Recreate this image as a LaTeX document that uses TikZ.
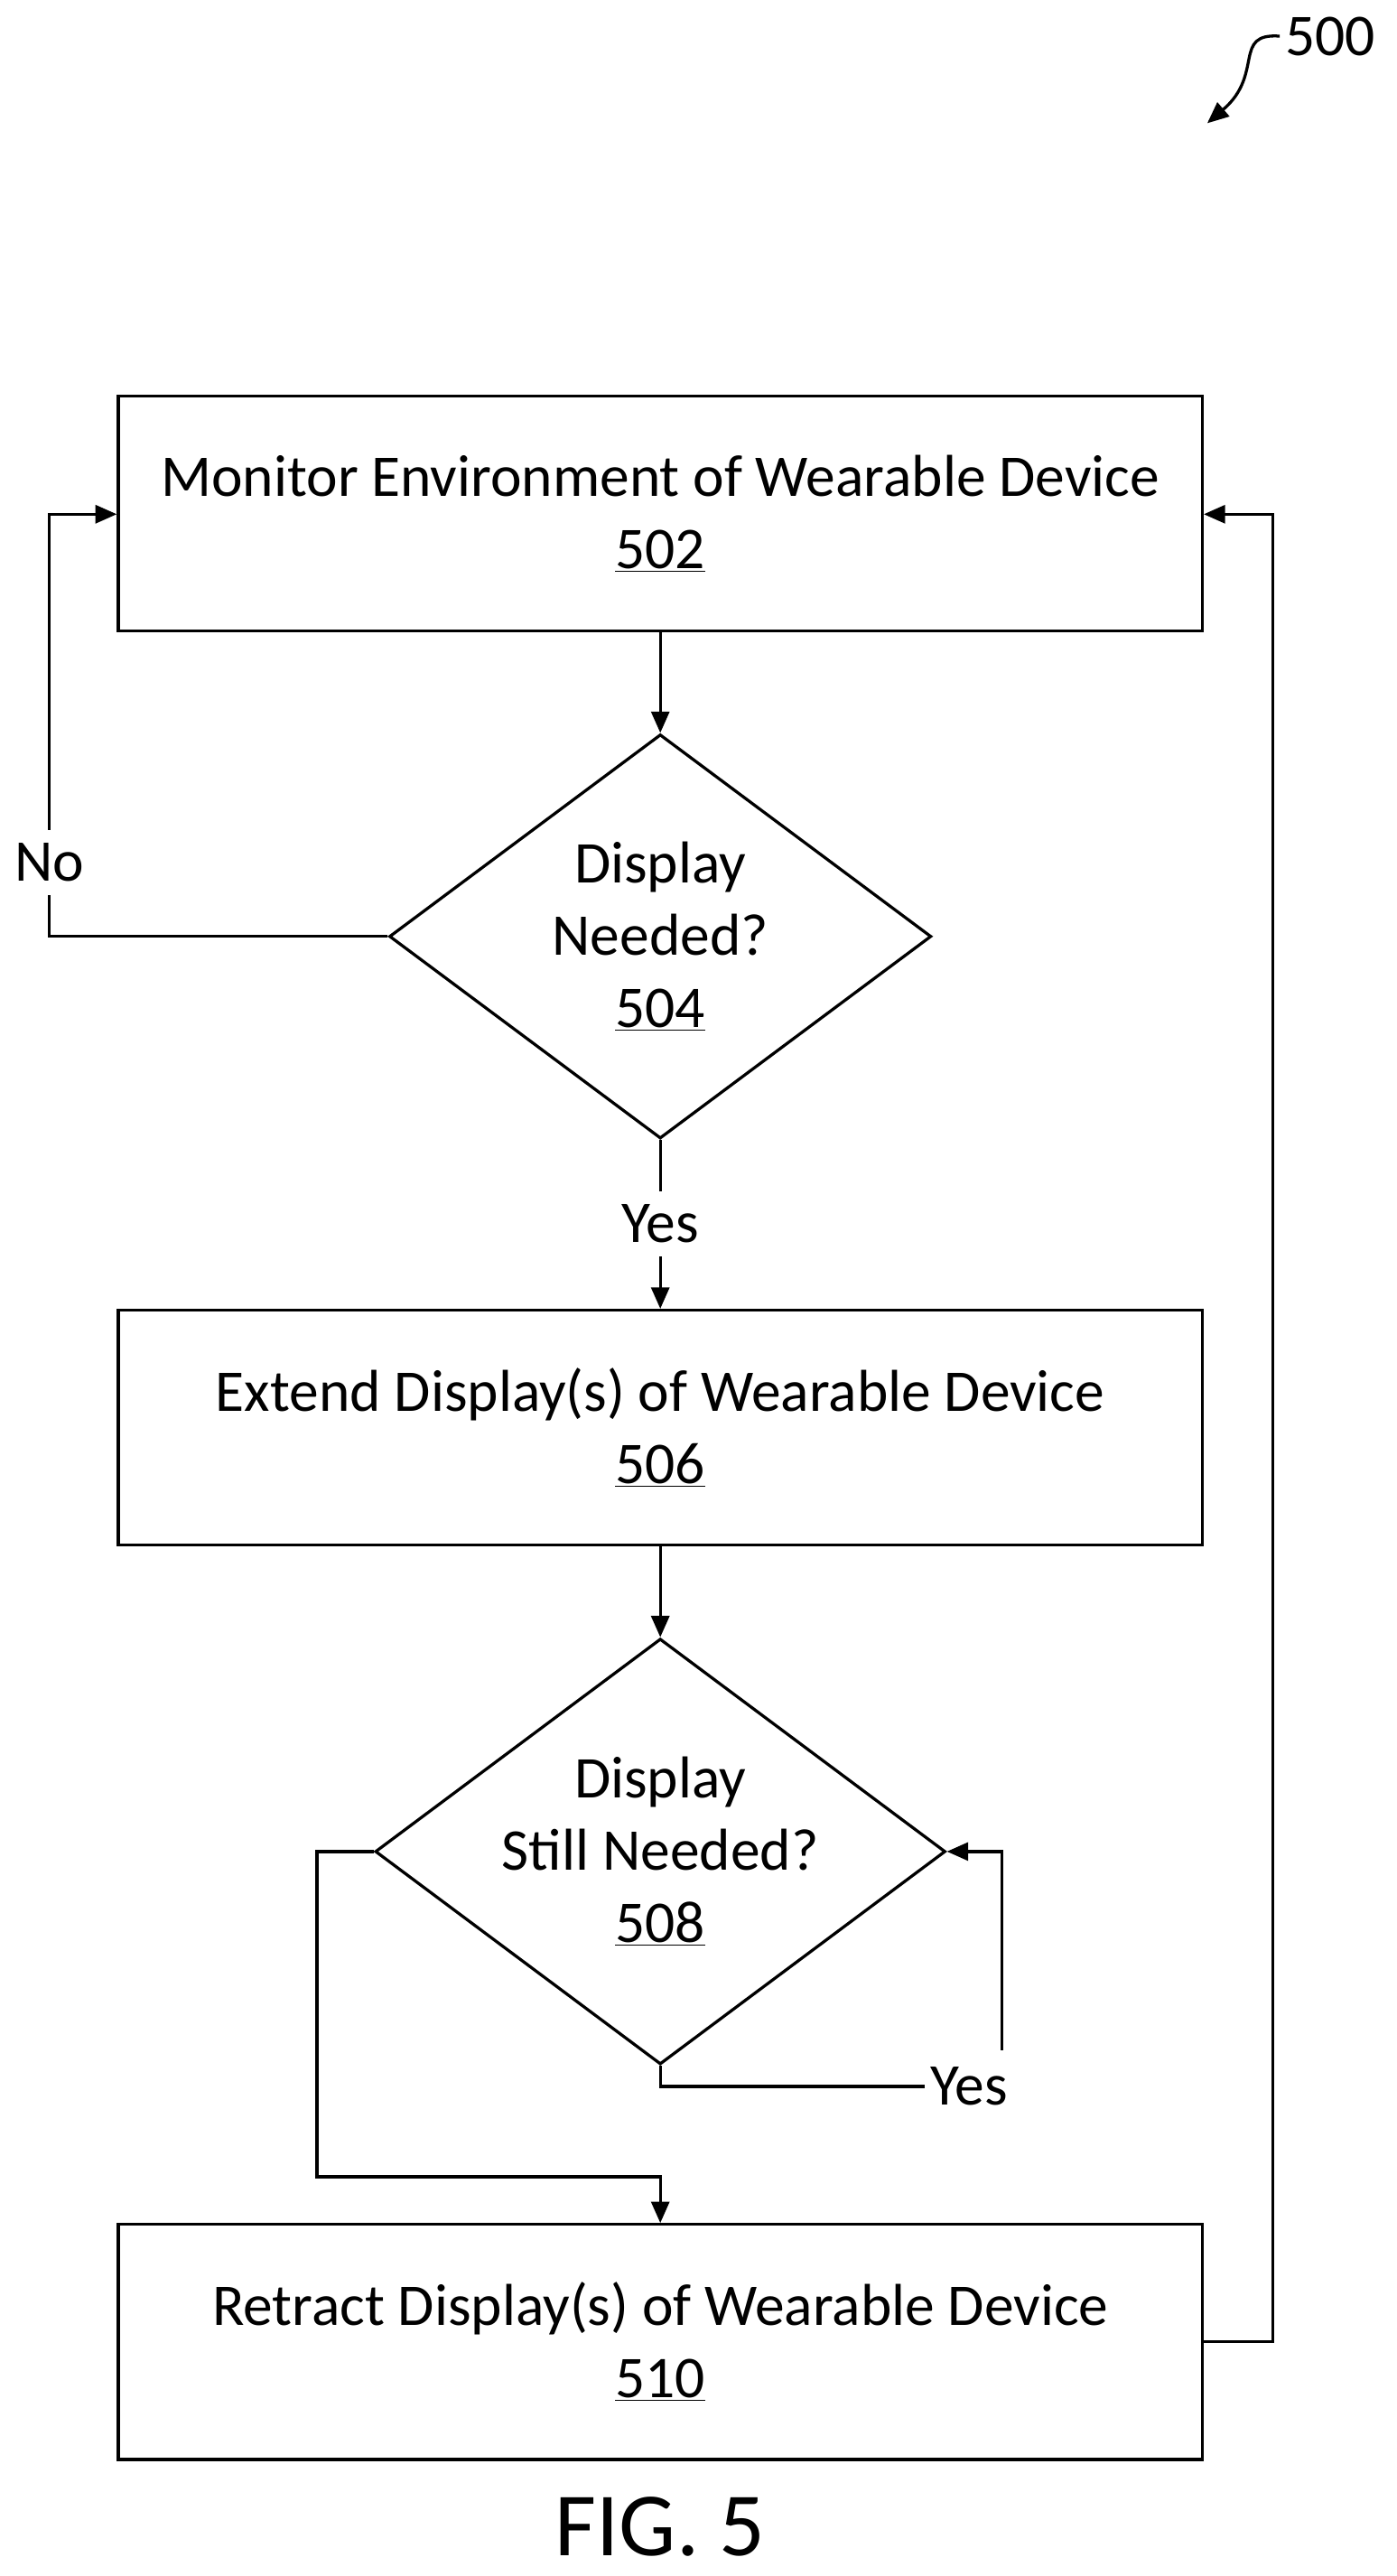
\documentclass[tikz,border=0pt]{standalone}
\usepackage{fontspec}
\setmainfont{Carlito}
\usetikzlibrary{shapes.geometric,arrows.meta}
\begin{document}
\begin{tikzpicture}[x=1pt,y=-1pt,
  box/.style={draw,line width=1.8pt,minimum width=660pt,minimum height=143pt,align=center,font=\fontsize{36}{44}\selectfont},
  dia/.style={draw,line width=1.8pt,diamond,minimum width=330pt,minimum height=246pt,aspect=1.34,inner sep=0pt,align=center,font=\fontsize{36}{44}\selectfont},
  ln/.style={line width=1.8pt},
  ar/.style={ln,-{Triangle[length=13pt,width=11pt]}},
  lab/.style={font=\fontsize{36}{42}\selectfont}]
\useasboundingbox (0,0) rectangle (850,1568);
\node[box] (b502) at (402,312.5) {Monitor Environment of Wearable Device\\\underline{502}};
\node[dia] (d504) at (402,570) {Display\\Needed?\\\underline{504}};
\node[box] (b506) at (402,869) {Extend Display(s) of Wearable Device\\\underline{506}};
\node[dia] (d508) at (402,1127) {Display\\Still Needed?\\\underline{508}};
\node[box] (b510) at (402,1425.5) {Retract Display(s) of Wearable Device\\\underline{510}};
\node[font=\fontsize{55}{60}\selectfont] (fig) at (402,1538) {FIG. 5};
\node[lab] (n500) at (810,22) {500};
\coordinate (c500) at (735,75);
\draw[ar] (n500.west) .. controls (750,20) and (770,45) .. (c500);

\draw[ar] (b502.south) -- (d504.north);
\draw[ln] (d504.west) -- (30,570) -- (30,545);
\node[lab] (no) at (30,525) {No};
\draw[ar] (30,505) -- (30,313) -- (b502.west |- 30,313);
\draw[ln] (d504.south) -- (402,725);
\node[lab] (yes1) at (402,745) {Yes};
\draw[ar] (402,765) -- (b506.north);
\draw[ar] (b506.south) -- (d508.north);
\node[lab] (yes2) at (590,1270) {Yes};
\draw[ln] (d508.south) -- (402,1270) -- (yes2.west);
\draw[ar] (610,1248) -- (610,1127) -- (d508.east);
\draw[ar] (d508.west) -- (193,1127) -- (193,1325) -- (402,1325) -- (b510.north);
\draw[ar] (b510.east) -- (775,1425.5) -- (775,313) -- (b502.east |- 775,313);
\end{tikzpicture}
\end{document}
